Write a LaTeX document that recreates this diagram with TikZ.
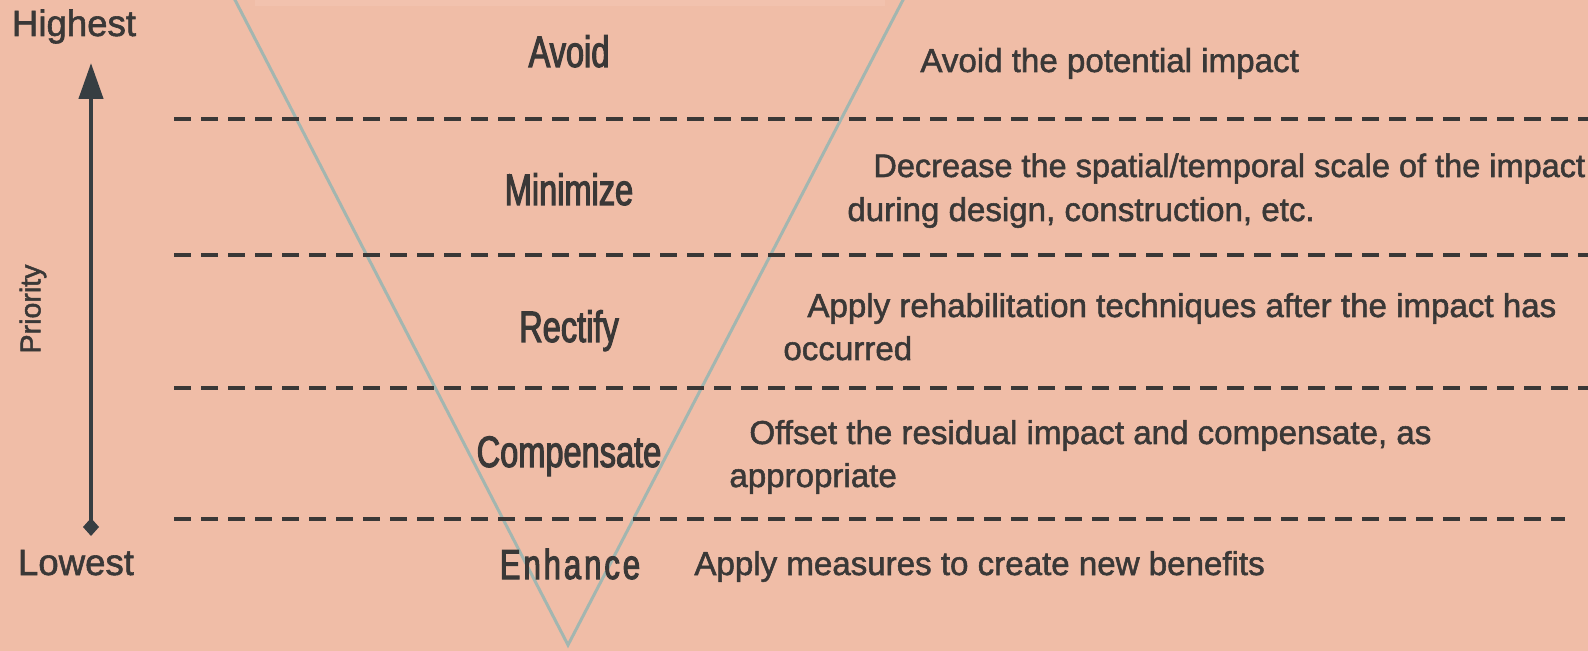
\documentclass[tikz,border=0pt]{standalone}
\usepackage{fontspec}
\setmainfont{Liberation Sans}
\newfontfamily\medfont[FakeBold=1.6]{Liberation Sans}
\newfontfamily\condfont[FakeStretch=0.74,FakeBold=2.4]{Liberation Sans}
\usetikzlibrary{arrows.meta}
\definecolor{bg}{RGB}{240,189,167}
\definecolor{ink}{RGB}{58,56,55}
\definecolor{arrowc}{RGB}{55,62,66}
\definecolor{tric}{RGB}{163,182,176}
\definecolor{topband}{RGB}{242,194,174}
\begin{document}
\begin{tikzpicture}[x=0.5pt,y=-0.5pt,
  lbl/.style={font=\condfont\fontsize{22}{26}\selectfont, text=ink, inner sep=0, anchor=base},
  desc/.style={font=\medfont\fontsize{16.55}{20}\selectfont, text=ink, inner sep=0, anchor=base west},
  side/.style={font=\medfont\fontsize{18.3}{22}\selectfont, text=ink, inner sep=0, anchor=base},
  sepline/.style={draw=ink, line width=2pt, dash pattern=on 8.5pt off 5pt},
  triline/.style={draw=tric, line width=1.5pt, line join=miter},
  prio/.style={-{Triangle[length=18pt,width=12pt]}, draw=arrowc, fill=arrowc, line width=2.2pt}]
\fill[bg] (0,0) rectangle (1588,651);
\useasboundingbox (0,0) rectangle (1588,651);
% faint top band
\draw[topband, line width=3pt] (255,3) -- (885,3);
% funnel
\coordinate (tl) at (234,-2);
\coordinate (tr) at (904,-2);
\coordinate (apex) at (568,645);
\draw[triline] (tl) -- (apex) -- (tr);
% separators
\coordinate (s1a) at (174,119); \coordinate (s1b) at (1600,119);
\coordinate (s2a) at (174,255); \coordinate (s2b) at (1600,255);
\coordinate (s3a) at (174,388); \coordinate (s3b) at (1600,388);
\coordinate (s4a) at (174,519); \coordinate (s4b) at (1565,519);
\draw[sepline] (s1a) -- (s1b);
\draw[sepline] (s2a) -- (s2b);
\draw[sepline] (s3a) -- (s3b);
\draw[sepline] (s4a) -- (s4b);
% priority axis
\node[side] (high) at (74,36) {Highest};
\node[side] (low) at (76,575) {Lowest};
\node[font=\medfont\fontsize{14.3}{17}\selectfont, text=ink, rotate=90, inner sep=0] (prio) at (33,309) {Priority};
\coordinate (abot) at (91,527);
\coordinate (atop) at (91,63);
\draw[prio] (abot) -- (atop);
\fill[arrowc] (91,518) -- (99,527) -- (91,536) -- (83,527) -- cycle;
% hierarchy labels
\node[lbl] (avoid) at (569,67) {Avoid};
\node[lbl] (minimize) at (569,205) {Minimize};
\node[lbl] (rectify) at (569,342) {Rectify};
\node[lbl] (compensate) at (569,467) {Compensate};
\node[lbl, font=\condfont\fontsize{21}{25}\selectfont\addfontfeature{LetterSpace=7}] (enhance) at (570,579) {Enhance};
% descriptions
\node[desc] (d1) at (920,72) {Avoid the potential impact};
\node[desc, font=\medfont\fontsize{16.25}{20}\selectfont] (d2a) at (873,177) {Decrease the spatial/temporal scale of the impact};
\node[desc] (d2b) at (847,221) {during design, construction, etc.};
\node[desc] (d3a) at (807,317) {Apply rehabilitation techniques after the impact has};
\node[desc] (d3b) at (783,360) {occurred};
\node[desc] (d4a) at (749,444) {Offset the residual impact and compensate, as};
\node[desc] (d4b) at (729,487) {appropriate};
\node[desc] (d5) at (694,575) {Apply measures to create new benefits};
\end{tikzpicture}
\end{document}
